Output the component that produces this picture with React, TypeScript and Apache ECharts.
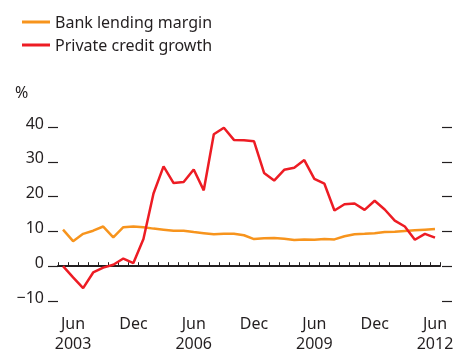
import React, { useEffect, useRef } from "react";
import * as echarts from "echarts";

const categories: string[] = [
  "Mar 2003", "Jun 2003", "Sep 2003", "Dec 2003",
  "Mar 2004", "Jun 2004", "Sep 2004", "Dec 2004",
  "Mar 2005", "Jun 2005", "Sep 2005", "Dec 2005",
  "Mar 2006", "Jun 2006", "Sep 2006", "Dec 2006",
  "Mar 2007", "Jun 2007", "Sep 2007", "Dec 2007",
  "Mar 2008", "Jun 2008", "Sep 2008", "Dec 2008",
  "Mar 2009", "Jun 2009", "Sep 2009", "Dec 2009",
  "Mar 2010", "Jun 2010", "Sep 2010", "Dec 2010",
  "Mar 2011", "Jun 2011", "Sep 2011", "Dec 2011",
  "Mar 2012", "Jun 2012",
];

const bankLendingMargin: number[] = [
  10.5, 7.2, 9.3, 10.2, 11.4, 8.3, 11.2, 11.4, 11.2, 10.8,
  10.5, 10.2, 10.2, 9.8, 9.5, 9.2, 9.3, 9.3, 8.9, 7.8,
  8.0, 8.1, 7.9, 7.5, 7.7, 7.6, 7.8, 7.7, 8.6, 9.2,
  9.3, 9.5, 9.8, 9.9, 10.1, 10.3, 10.5, 10.7,
];

const privateCreditGrowth: number[] = [
  0, -3.2, -6.3, -1.8, -0.4, 0.4, 2.2, 0.9, 7.8, 20.9,
  28.7, 23.9, 24.2, 27.8, 21.8, 37.9, 39.8, 36.3, 36.2, 35.9,
  26.8, 24.6, 27.7, 28.3, 30.5, 25.1, 23.7, 16.0, 17.8, 18.0,
  16.2, 18.8, 16.3, 13.1, 11.4, 7.6, 9.3, 8.2,
];

const xLabels: Record<number, string> = {
  1: "Jun\n2003",
  7: "Dec",
  13: "Jun\n2006",
  19: "Dec",
  25: "Jun\n2009",
  31: "Dec",
  37: "Jun\n2012",
};

const yTicks: number[] = [-10, 0, 10, 20, 30, 40];

const TEXT = "#231f20";
const FONT = "'Noto Sans', sans-serif";

export default function App() {
  const ref = useRef<HTMLDivElement>(null);
  useEffect(() => {
    if (!ref.current) return;
    const chart = echarts.init(ref.current, undefined, { renderer: "svg" });
    chart.setOption({
      animation: false,
      textStyle: { fontFamily: FONT, color: TEXT },
      legend: {
        orient: "vertical",
        left: 17,
        top: 9,
        itemWidth: 28,
        itemHeight: 3,
        itemGap: 7,
        icon: "rect",
        textStyle: { fontFamily: FONT, fontSize: 16, color: TEXT, padding: [0, 0, 0, 0] },
        data: ["Bank lending margin", "Private credit growth"],
      },
      graphic: [
        {
          type: "text",
          left: 15,
          top: 84,
          style: { text: "%", fontFamily: FONT, fontSize: 16, fill: TEXT },
        },
      ],
      grid: { left: 58, right: 17, top: 127, bottom: 49, containLabel: false },
      xAxis: [
        {
          type: "category",
          data: categories,
          boundaryGap: true,
          position: "bottom",
          axisLine: { show: false, onZero: false },
          axisTick: { show: false },
          axisLabel: {
            interval: 0,
            margin: 12,
            fontFamily: FONT,
            fontSize: 16,
            lineHeight: 20,
            color: TEXT,
            formatter: (_v: string, i: number) => xLabels[i] ?? "",
          },
          splitLine: { show: false },
        },
        {
          type: "category",
          data: categories,
          boundaryGap: true,
          position: "top",
          axisLine: { show: true, onZero: true, lineStyle: { color: TEXT, width: 2 } },
          axisTick: { show: true, interval: 0, length: 4, lineStyle: { color: TEXT, width: 1 } },
          axisLabel: { show: false },
          splitLine: { show: false },
        },
      ],
      yAxis: [
        {
          type: "value",
          min: -10,
          max: 40,
          interval: 10,
          position: "left",
          axisLine: { show: false },
          axisTick: { show: true, length: 10, lineStyle: { color: TEXT, width: 1.2 } },
          axisLabel: {
            margin: 14,
            color: TEXT,
            formatter: (v: number) =>
              yTicks.includes(v) ? "{a|" + (v < 0 ? "\u2212" + Math.abs(v) : String(v)) + "}" : "",
            rich: {
              a: {
                fontFamily: FONT,
                fontSize: 16,
                color: TEXT,
                padding: [0, 0, 9, 0],
              },
            },
          },
          splitLine: { show: false },
        },
        {
          type: "value",
          min: -10,
          max: 40,
          interval: 10,
          position: "right",
          offset: 2,
          axisLine: { show: false },
          axisTick: { show: true, length: 10, lineStyle: { color: TEXT, width: 1.2 } },
          axisLabel: { show: false },
          splitLine: { show: false },
        },
      ],
      series: [
        {
          name: "Bank lending margin",
          type: "line",
          xAxisIndex: 0,
          yAxisIndex: 0,
          data: bankLendingMargin,
          symbol: "none",
          lineStyle: { color: "#f7941d", width: 2.5 },
          itemStyle: { color: "#f7941d" },
          z: 3,
        },
        {
          name: "Private credit growth",
          type: "line",
          xAxisIndex: 0,
          yAxisIndex: 0,
          data: privateCreditGrowth,
          symbol: "none",
          lineStyle: { color: "#ed1c24", width: 2.5 },
          itemStyle: { color: "#ed1c24" },
          z: 4,
        },
      ],
    });
    return () => chart.dispose();
  }, []);
  return (
    <div
      ref={ref}
      style={{ position: "fixed", left: 0, top: 0, width: 457, height: 353 }}
    />
  );
}
